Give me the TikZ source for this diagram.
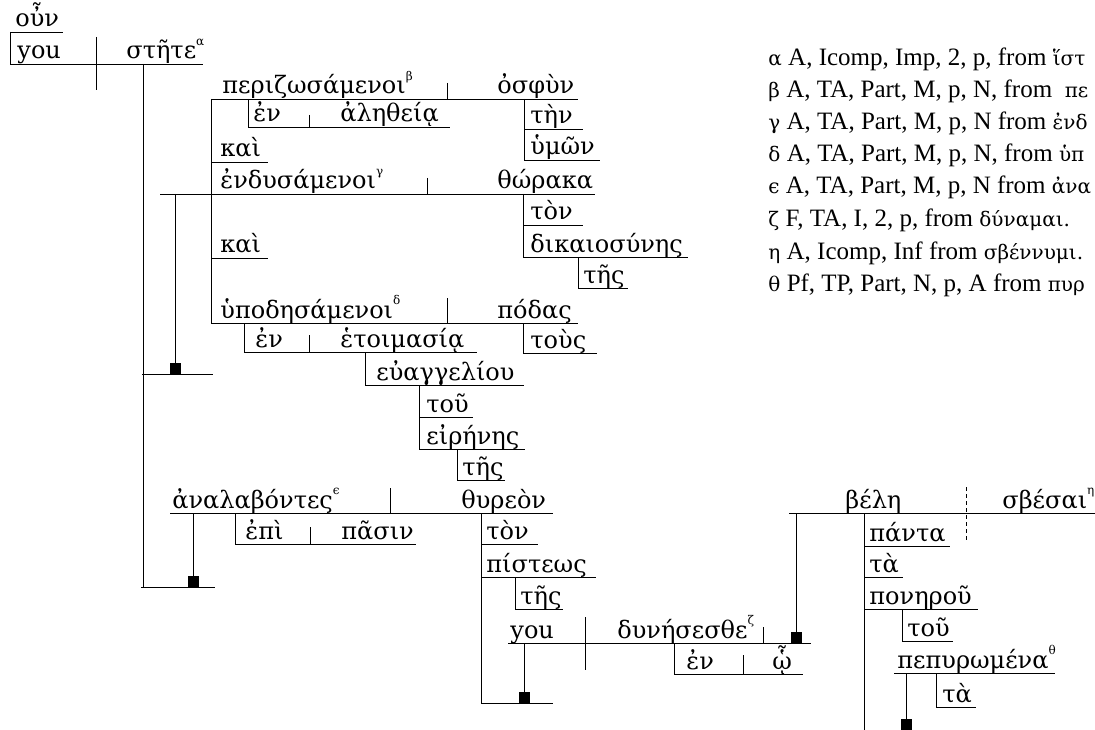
\documentclass[tikz,border=0pt]{standalone}
\usepackage{fontspec}
\setmainfont{Liberation Serif}
\newfontfamily\grk{DejaVu Serif}
\newcommand{\up}[1]{\raisebox{1.1ex}{\fontsize{12}{12}\selectfont #1}}
\newcommand{\lgk}[1]{{\grk\fontsize{20}{22}\selectfont #1}}
\begin{document}
\begin{tikzpicture}[x=1pt, y=-1pt, line width=0.9pt,
    word/.style={anchor=base west, inner sep=0pt, font=\grk\fontsize{24}{26}\selectfont},
    note/.style={anchor=base west, inner sep=0pt, font=\fontsize{25}{28}\selectfont},
    blk/.style={fill=black, inner sep=0pt, minimum size=11pt, anchor=south}
]
\useasboundingbox (0,0) rectangle (1095,730);
\clip (0,0) rectangle (1095,730);

% main clause
\node[word] (oun) at (15,27) {οὖν};
\draw (10,32) -- (63,32) (10,32) -- (10,64);
\node[word] (you) at (17,59) {you};
\node[word] (stete) at (126,59) {στῆτε\up{α}};
\draw (10,64) -- (203,64) (96,37) -- (96,90) (143,64) -- (143,587);

% participles
\node[word] (perizo) at (222,94) {περιζωσάμενοι\up{β}};
\node[word] (osfun) at (497,94) {ὀσφὺν};
\draw (211,99) -- (578,99) (447,83) -- (447,99) (211,99) -- (211,323);
\node[word] (en1) at (253,122) {ἐν};
\node[word] (aletheia) at (340,122) {ἀληθείᾳ};
\draw (248,99) -- (248,127) -- (450,127) (309,115) -- (309,127);
\node[word] (ten) at (530,124) {τὴν};
\node[word] (humon) at (530,155) {ὑμῶν};
\draw (524,99) -- (524,160) -- (600,160) (524,129) -- (583,129);
\node[word] (kai1) at (220,157) {καὶ};
\draw (211,162) -- (268,162);

\node[word] (endus) at (220,189) {ἐνδυσάμενοι\up{γ}};
\node[word] (thoraka) at (497,189) {θώρακα};
\draw (160,194) -- (595,194) (427,178) -- (427,194);
\draw (175,194) -- (175,374) (142,374) -- (213,374);
\node[blk] (sq1) at (175,374) {};
\node[word] (ton1) at (530,220) {τὸν};
\node[word] (dikaio) at (530,252) {δικαιοσύνης};
\draw (523,194) -- (523,257) -- (688,257) (523,225) -- (583,225);
\node[word] (tes1) at (583,283) {τῆς};
\draw (578,257) -- (578,288) -- (628,288);
\node[word] (kai2) at (220,253) {καὶ};
\draw (211,258) -- (268,258);

\node[word] (hupod) at (220,318) {ὑποδησάμενοι\up{δ}};
\node[word] (podas) at (497,318) {πόδας};
\draw (211,323) -- (578,323) (447,298) -- (447,323);
\node[word] (en2) at (255,347) {ἐν};
\node[word] (hetoim) at (340,347) {ἑτοιμασίᾳ};
\draw (244,323) -- (244,352) -- (477,352) (309,335) -- (309,352);
\node[word] (tous) at (530,348) {τοὺς};
\draw (523,323) -- (523,353) -- (597,353);
\node[word] (euang) at (376,380) {εὐαγγελίου};
\draw (365,352) -- (365,385) -- (524,385);
\node[word] (tou1) at (426,412) {τοῦ};
\node[word] (eirenes) at (426,444) {εἰρήνης};
\draw (419,385) -- (419,449) -- (525,449) (419,417) -- (473,417);
\node[word] (tes2) at (462,475) {τῆς};
\draw (457,449) -- (457,480) -- (505,480);

\node[word] (analab) at (172,508) {ἀναλαβόντες\up{ϵ}};
\node[word] (thureon) at (461,508) {θυρεὸν};
\draw (170,513) -- (553,513) (390,488) -- (390,513);
\draw (193,513) -- (193,587) (141,587) -- (215,587);
\node[blk] (sq2) at (193,587) {};
\node[word] (epi) at (245,539) {ἐπὶ};
\node[word] (pasin) at (341,539) {πᾶσιν};
\draw (235,513) -- (235,544) -- (416,544) (310,527) -- (310,544);
\node[word] (ton2) at (486,539) {τὸν};
\node[word] (pisteos) at (486,572) {πίστεως};
\draw (481,513) -- (481,703) -- (553,703) (481,544) -- (538,544) (481,577) -- (596,577);
\node[word] (tes3) at (520,604) {τῆς};
\draw (515,577) -- (515,609) -- (563,609);

% relative clause
\node[word] (you2) at (510,638) {you};
\node[word] (dunes) at (617,638) {δυνήσεσθε\up{ζ}};
\draw (508,643) -- (811,643) (585,617) -- (585,670) (763,627) -- (763,643);
\draw (524,643) -- (524,703);
\node[blk] (sq3) at (524,703) {};
\node[blk] (sq4) at (796,643) {};
\draw (796,513) -- (796,643);
\node[word] (en3) at (686,669) {ἐν};
\node[word] (ho) at (772,669) {ᾧ};
\draw (674,643) -- (674,674) -- (803,674) (743,655) -- (743,674);

% infinitive
\node[word] (bele) at (845,508) {βέλη};
\node[word] (sbesai) at (1002,508) {σβέσαι\up{η}};
\draw (789,513) -- (1095,513);
\draw[dash pattern=on 4pt off 3pt] (966,487) -- (966,540);
\draw (864,513) -- (864,730);
\node[word] (panta) at (869,541) {πάντα};
\node[word] (ta1) at (869,572) {τὰ};
\node[word] (ponerou) at (869,604) {πονηροῦ};
\draw (864,546) -- (950,546) (864,577) -- (903,577) (864,609) -- (978,609);
\node[word] (tou2) at (907,636) {τοῦ};
\draw (902,609) -- (902,641) -- (953,641);
\node[word] (pepur) at (897,668) {πεπυρωμένα\up{θ}};
\draw (894,673) -- (1055,673) (906,673) -- (906,730);
\node[blk] (sq5) at (906,730) {};
\node[word] (ta2) at (942,702) {τὰ};
\draw (936,673) -- (936,707) -- (976,707);

% parsing notes
\node[note] (leg1) at (768,66) {\lgk{α} A, Icomp, Imp, 2, p, from \lgk{ἵστ}};
\node[note] (leg2) at (768,98) {\lgk{β} A, TA, Part, M, p, N, from\ \ \lgk{πε}};
\node[note] (leg3) at (768,130) {\lgk{γ} A, TA, Part, M, p, N from \lgk{ἐνδ}};
\node[note] (leg4) at (768,162) {\lgk{δ} A, TA, Part, M, p, N, from \lgk{ὑπ}};
\node[note] (leg5) at (768,194) {\lgk{ϵ} A, TA, Part, M, p, N from \lgk{ἀνα}};
\node[note] (leg6) at (768,226) {\lgk{ζ} F, TA, I, 2, p, from \lgk{δύναμαι.}};
\node[note] (leg7) at (768,259) {\lgk{η} A, Icomp, Inf from \lgk{σβέννυμι.}};
\node[note] (leg8) at (768,291) {\lgk{θ} Pf, TP, Part, N, p, A from \lgk{πυρ}};
\end{tikzpicture}
\end{document}
